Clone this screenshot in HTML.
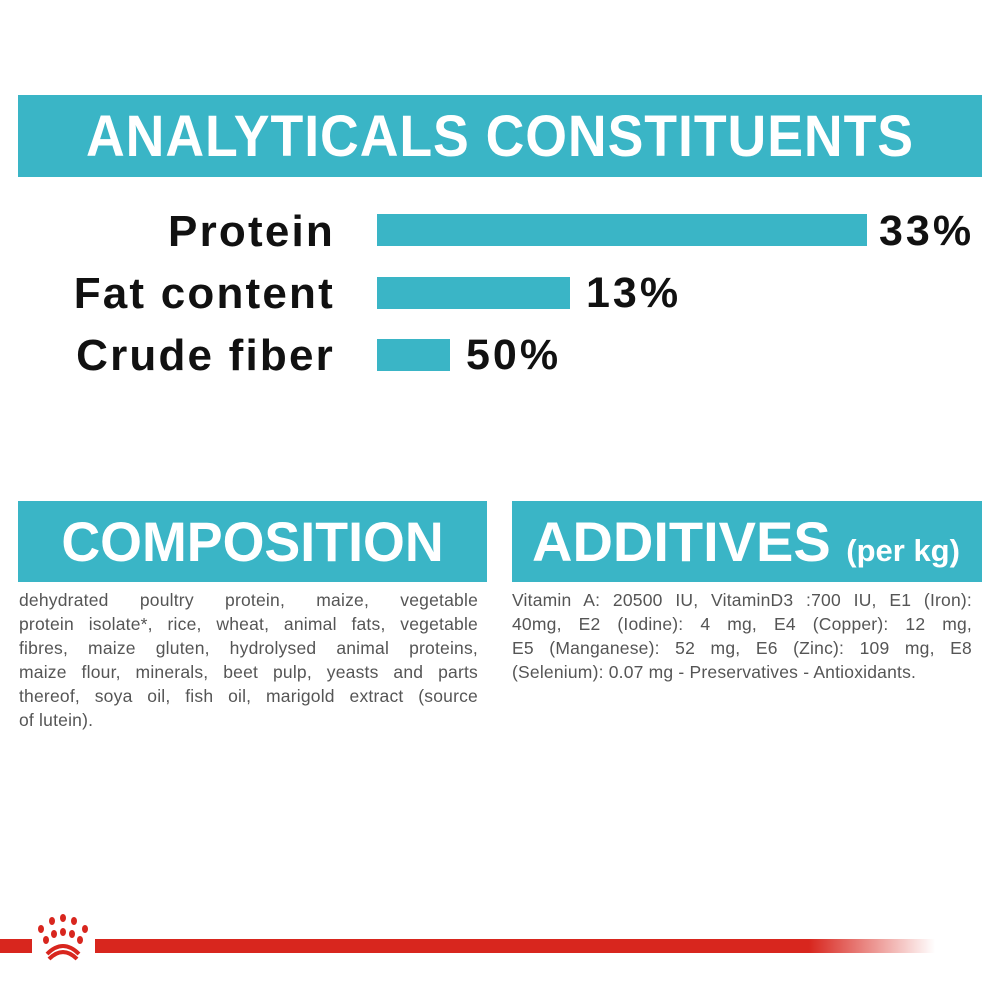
<!DOCTYPE html>
<html><head><style>
body{margin:0;width:1000px;height:1000px;background:#fff;position:relative;overflow:hidden;font-family:"Liberation Sans",sans-serif}
.bar{position:absolute;background:#3ab5c6}
.h{position:absolute;color:#fff;font-weight:bold;text-align:center;white-space:nowrap}
.lab{position:absolute;right:665px;font-weight:bold;font-size:44px;color:#111;white-space:nowrap;line-height:1;letter-spacing:2.2px}
.pct{position:absolute;font-weight:bold;font-size:43px;color:#111;line-height:1;letter-spacing:3px}
.txt{position:absolute;font-size:17.5px;color:#555;line-height:24px;letter-spacing:0.2px}
.txt div{text-align:justify;text-align-last:justify;white-space:nowrap;height:24px}
.txt div.l{text-align-last:left}
</style></head><body>
<div class="bar" style="left:18px;top:95px;width:964px;height:82px"></div>
<div class="h" style="left:18px;top:105px;width:964px;font-size:58px;line-height:64px;letter-spacing:1px;transform:scaleX(0.925)">ANALYTICALS CONSTITUENTS</div>
<div class="lab" style="top:210px">Protein</div>
<div class="lab" style="top:272px">Fat content</div>
<div class="lab" style="top:334px">Crude fiber</div>
<div class="bar" style="left:377px;top:214px;width:490px;height:32px"></div>
<div class="bar" style="left:377px;top:277px;width:193px;height:32px"></div>
<div class="bar" style="left:377px;top:339px;width:73px;height:32px"></div>
<div class="pct" style="left:879px;top:210px">33%</div>
<div class="pct" style="left:586px;top:272px">13%</div>
<div class="pct" style="left:466px;top:334px">50%</div>
<div class="bar" style="left:18px;top:501px;width:469px;height:81px"></div>
<div class="h" style="left:18px;top:510px;width:469px;font-size:56px;line-height:64px;transform:scaleX(0.96)">COMPOSITION</div>
<div class="bar" style="left:512px;top:501px;width:470px;height:81px"></div>
<div class="h" style="left:532px;top:510px;font-size:56px;line-height:64px;text-align:left">ADDITIVES <span style="font-size:31px">(per kg)</span></div>
<div class="txt" style="left:19px;top:588px;width:459px">
<div>dehydrated poultry protein, maize, vegetable</div>
<div>protein isolate*, rice, wheat, animal fats, vegetable</div>
<div>fibres, maize gluten, hydrolysed animal proteins,</div>
<div>maize flour, minerals, beet pulp, yeasts and parts</div>
<div>thereof, soya oil, fish oil, marigold extract (source</div>
<div class="l">of lutein).</div>
</div>
<div class="txt" style="left:512px;top:588px;width:460px">
<div>Vitamin A: 20500 IU, VitaminD3 :700 IU, E1 (Iron):</div>
<div>40mg, E2 (Iodine): 4 mg, E4 (Copper): 12 mg,</div>
<div>E5 (Manganese): 52 mg, E6 (Zinc): 109 mg, E8</div>
<div class="l">(Selenium): 0.07 mg - Preservatives - Antioxidants.</div>
</div>
<div style="position:absolute;left:0;top:939px;width:32px;height:14px;background:#d8261e"></div>
<div style="position:absolute;left:95px;top:939px;width:840px;height:14px;background:linear-gradient(90deg,#d8261e 0%,#d8261e 85%,rgba(216,38,30,0) 100%)"></div>
<svg style="position:absolute;left:35px;top:910px" width="60" height="60" viewBox="0 0 60 60">
<g fill="#d8261e">
<ellipse cx="28" cy="8" rx="3" ry="4"/><ellipse cx="17" cy="11" rx="3" ry="4"/><ellipse cx="39" cy="11" rx="3" ry="4"/>
<ellipse cx="6" cy="19" rx="3" ry="4"/><ellipse cx="50" cy="19" rx="3" ry="4"/>
<ellipse cx="19" cy="24" rx="3" ry="4"/><ellipse cx="28" cy="22" rx="3" ry="4"/><ellipse cx="37" cy="24" rx="3" ry="4"/>
<ellipse cx="11" cy="30" rx="3" ry="4"/><ellipse cx="45" cy="30" rx="3" ry="4"/>
</g>
<path d="M12 44 Q28 28 44 44 M14 49 Q28 35 42 49" stroke="#d8261e" stroke-width="4" fill="none"/>
</svg>
</body></html>
